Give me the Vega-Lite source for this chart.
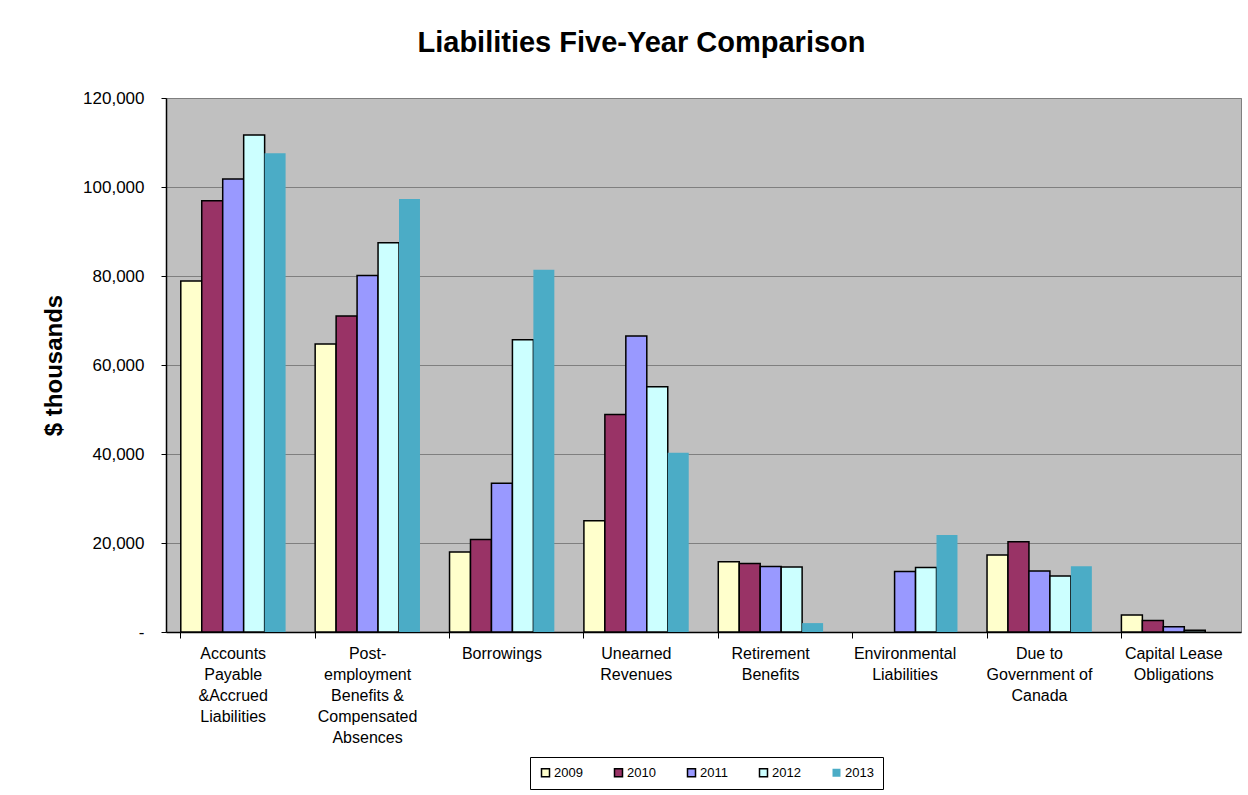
{
  "$schema": "https://vega.github.io/schema/vega-lite/v6.json",
  "width": 1075,
  "height": 534,
  "autosize": {"type": "none"},
  "padding": {"left": 166, "top": 98, "right": 7, "bottom": 163},
  "background": "white",
  "title": {
    "text": "Liabilities Five-Year Comparison",
    "font": "Liberation Sans",
    "fontSize": 29,
    "fontWeight": "bold",
    "color": "black",
    "anchor": "middle",
    "dx": -62,
    "offset": 31
  },
  "data": {
    "values": [
      {"category": "Accounts Payable &Accrued Liabilities", "year": "2009", "value": 78900},
      {"category": "Accounts Payable &Accrued Liabilities", "year": "2010", "value": 96900},
      {"category": "Accounts Payable &Accrued Liabilities", "year": "2011", "value": 101800},
      {"category": "Accounts Payable &Accrued Liabilities", "year": "2012", "value": 111700},
      {"category": "Accounts Payable &Accrued Liabilities", "year": "2013", "value": 107600},
      {"category": "Post-employment Benefits & Compensated Absences", "year": "2009", "value": 64700},
      {"category": "Post-employment Benefits & Compensated Absences", "year": "2010", "value": 71000},
      {"category": "Post-employment Benefits & Compensated Absences", "year": "2011", "value": 80100},
      {"category": "Post-employment Benefits & Compensated Absences", "year": "2012", "value": 87500},
      {"category": "Post-employment Benefits & Compensated Absences", "year": "2013", "value": 97300},
      {"category": "Borrowings", "year": "2009", "value": 18000},
      {"category": "Borrowings", "year": "2010", "value": 20800},
      {"category": "Borrowings", "year": "2011", "value": 33400},
      {"category": "Borrowings", "year": "2012", "value": 65700},
      {"category": "Borrowings", "year": "2013", "value": 81400},
      {"category": "Unearned Revenues", "year": "2009", "value": 25000},
      {"category": "Unearned Revenues", "year": "2010", "value": 48900},
      {"category": "Unearned Revenues", "year": "2011", "value": 66500},
      {"category": "Unearned Revenues", "year": "2012", "value": 55100},
      {"category": "Unearned Revenues", "year": "2013", "value": 40300},
      {"category": "Retirement Benefits", "year": "2009", "value": 15800},
      {"category": "Retirement Benefits", "year": "2010", "value": 15400},
      {"category": "Retirement Benefits", "year": "2011", "value": 14700},
      {"category": "Retirement Benefits", "year": "2012", "value": 14600},
      {"category": "Retirement Benefits", "year": "2013", "value": 2000},
      {"category": "Environmental Liabilities", "year": "2009", "value": 0},
      {"category": "Environmental Liabilities", "year": "2010", "value": 0},
      {"category": "Environmental Liabilities", "year": "2011", "value": 13600},
      {"category": "Environmental Liabilities", "year": "2012", "value": 14500},
      {"category": "Environmental Liabilities", "year": "2013", "value": 21800},
      {"category": "Due to Government of Canada", "year": "2009", "value": 17300},
      {"category": "Due to Government of Canada", "year": "2010", "value": 20300},
      {"category": "Due to Government of Canada", "year": "2011", "value": 13700},
      {"category": "Due to Government of Canada", "year": "2012", "value": 12600},
      {"category": "Due to Government of Canada", "year": "2013", "value": 14800},
      {"category": "Capital Lease Obligations", "year": "2009", "value": 3800},
      {"category": "Capital Lease Obligations", "year": "2010", "value": 2600},
      {"category": "Capital Lease Obligations", "year": "2011", "value": 1200},
      {"category": "Capital Lease Obligations", "year": "2012", "value": 400},
      {"category": "Capital Lease Obligations", "year": "2013", "value": 0}
    ]
  },
  "transform": [{"filter": "datum.value > 0"}],
  "mark": {"type": "bar", "strokeWidth": 1.5},
  "encoding": {
    "x": {
      "field": "category",
      "type": "nominal",
      "sort": null,
      "scale": {"paddingInner": 0.22, "paddingOuter": 0.11},
      "axis": {
        "title": null,
        "labelAngle": 0,
        "labelFont": "Liberation Sans",
        "labelFontSize": 16,
        "labelColor": "black",
        "labelLineHeight": 21,
        "labelPadding": 7,
        "labelBaseline": "top",
        "labelLimit": 0,
        "bandPosition": 0,
        "tickColor": "black",
        "tickSize": 6,
        "domainColor": "black",
        "domainWidth": 1.5,
        "labelExpr": "datum.value == 'Accounts Payable &Accrued Liabilities' ? ['Accounts', 'Payable', '&Accrued', 'Liabilities'] : datum.value == 'Post-employment Benefits & Compensated Absences' ? ['Post-', 'employment', 'Benefits &', 'Compensated', 'Absences'] : datum.value == 'Unearned Revenues' ? ['Unearned', 'Revenues'] : datum.value == 'Retirement Benefits' ? ['Retirement', 'Benefits'] : datum.value == 'Environmental Liabilities' ? ['Environmental', 'Liabilities'] : datum.value == 'Due to Government of Canada' ? ['Due to', 'Government of', 'Canada'] : datum.value == 'Capital Lease Obligations' ? ['Capital Lease', 'Obligations'] : datum.label"
      }
    },
    "xOffset": {"field": "year", "type": "nominal", "scale": {"domain": ["2009", "2010", "2011", "2012", "2013"], "paddingInner": 0, "paddingOuter": 0}},
    "y": {
      "field": "value",
      "type": "quantitative",
      "scale": {"domain": [0, 120000], "nice": false},
      "axis": {
        "title": "$ thousands",
        "titleFont": "Liberation Sans",
        "titleFontSize": 24,
        "titleFontWeight": "bold",
        "titleColor": "black",
        "titlePadding": 16,
        "values": [0, 20000, 40000, 60000, 80000, 100000, 120000],
        "format": ",.0f",
        "labelExpr": "datum.value == 0 ? '-' : datum.label",
        "labelFont": "Liberation Sans",
        "labelFontSize": 17,
        "labelColor": "black",
        "labelPadding": 17,
        "tickColor": "black",
        "tickSize": 5,
        "domainColor": "black",
        "domainWidth": 1.5,
        "grid": true,
        "gridColor": "#7f7f7f",
        "gridWidth": 1
      }
    },
    "color": {
      "field": "year",
      "type": "nominal",
      "scale": {"domain": ["2009", "2010", "2011", "2012", "2013"], "range": ["#FFFFCC", "#993366", "#9999FF", "#CCFFFF", "#4BACC6"]},
      "legend": {
        "title": null,
        "orient": "none",
        "legendX": 364,
        "legendY": 659,
        "direction": "horizontal",
        "columns": 5,
        "symbolType": "square",
        "symbolSize": 64,
        "symbolStrokeWidth": 1.5,
        "labelFont": "Liberation Sans",
        "labelFontSize": 13,
        "labelColor": "black",
        "labelOffset": 2,
        "columnPadding": 28,
        "padding": 9,
        "strokeColor": "black",
        "fillColor": "white"
      }
    },
    "stroke": {
      "field": "year",
      "type": "nominal",
      "scale": {"domain": ["2009", "2010", "2011", "2012", "2013"], "range": ["black", "black", "black", "black", "transparent"]},
      "legend": {
        "title": null,
        "orient": "none",
        "legendX": 364,
        "legendY": 659,
        "direction": "horizontal",
        "columns": 5,
        "symbolType": "square",
        "symbolSize": 64,
        "symbolStrokeWidth": 1.5,
        "labelFont": "Liberation Sans",
        "labelFontSize": 13,
        "labelColor": "black",
        "labelOffset": 2,
        "columnPadding": 28,
        "padding": 9,
        "strokeColor": "black",
        "fillColor": "white"
      }
    }
  },
  "config": {
    "view": {"fill": "#C0C0C0", "stroke": "#808080", "strokeWidth": 1}
  }
}
